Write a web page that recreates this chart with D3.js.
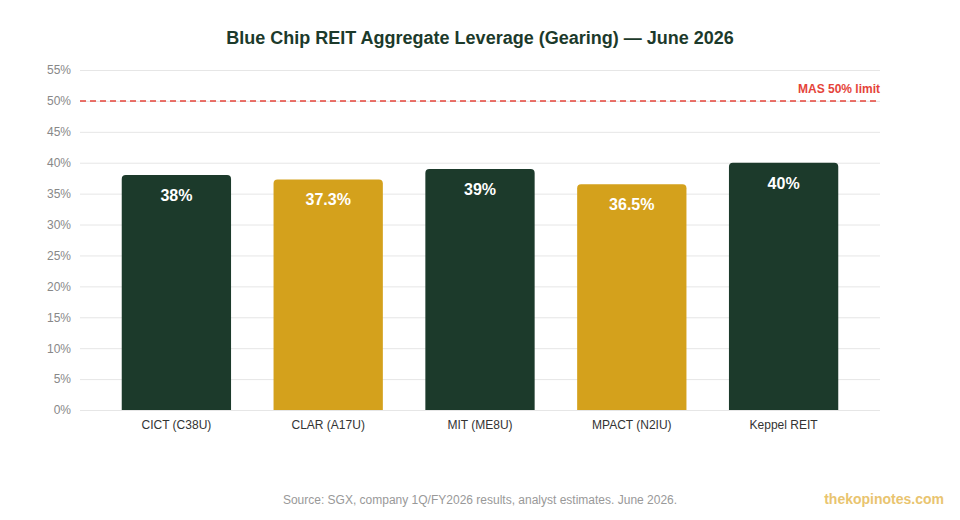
<!DOCTYPE html>
<html>
<head>
<meta charset="utf-8">
<script src="https://cdn.jsdelivr.net/npm/d3@7"></script>
<style>
  body { margin: 0; background: #fff; font-family: "Liberation Sans", Arial, sans-serif; }
</style>
</head>
<body>
<div id="chart"></div>
<script>
// Data
const reits = ['CICT (C38U)', 'CLAR (A17U)', 'MIT (ME8U)', 'MPACT (N2IU)', 'Keppel REIT'];
const gearing = [38, 37.3, 39, 36.5, 40];
const barColors = ['#1c3a2b', '#d4a11c', '#1c3a2b', '#d4a11c', '#1c3a2b'];
const yTicks = [0, 5, 10, 15, 20, 25, 30, 35, 40, 45, 50, 55];
const masLimit = 50;

const width = 960, height = 520;
const margin = { top: 70, right: 80, bottom: 110, left: 80 };

const svg = d3.select('#chart')
  .append('svg')
  .attr('width', width)
  .attr('height', height);

// Scales
const x = d3.scaleBand()
  .domain(reits)
  .range([margin.left, width - margin.right])
  .paddingInner(0.28)
  .paddingOuter(0.275);

const y = d3.scaleLinear()
  .domain([0, 55])
  .range([height - margin.bottom, margin.top]);

// Title
svg.append('text')
  .attr('x', width / 2)
  .attr('y', 44)
  .attr('text-anchor', 'middle')
  .attr('font-size', 18)
  .attr('font-weight', 'bold')
  .attr('fill', '#1c3a2b')
  .text('Blue Chip REIT Aggregate Leverage (Gearing) \u2014 June 2026');

// Y axis with gridlines
const yAxis = svg.append('g')
  .attr('transform', `translate(${margin.left},0)`)
  .call(d3.axisLeft(y)
    .tickValues(yTicks)
    .tickSize(-(width - margin.left - margin.right))
    .tickPadding(9)
    .tickFormat(d => d + '%'));
yAxis.select('.domain').remove();
yAxis.selectAll('.tick line').attr('stroke', '#e6e6e6').attr('stroke-width', 1);
yAxis.selectAll('.tick text')
  .attr('fill', '#888')
  .attr('font-size', 12)
  .attr('font-family', '"Liberation Sans", Arial, sans-serif');

// X axis labels
const xAxis = svg.append('g')
  .attr('transform', `translate(0,${height - margin.bottom})`)
  .call(d3.axisBottom(x).tickSize(0).tickPadding(10));
xAxis.select('.domain').remove();
xAxis.selectAll('.tick text')
  .attr('fill', '#333')
  .attr('font-size', 12)
  .attr('font-family', '"Liberation Sans", Arial, sans-serif');

// Bars with rounded top corners
const r = 4;
function barPath(i) {
  const x0 = x(reits[i]), w = x.bandwidth();
  const y0 = y(gearing[i]), y1 = y(0);
  return `M${x0},${y1} L${x0},${y0 + r} Q${x0},${y0} ${x0 + r},${y0} ` +
    `L${x0 + w - r},${y0} Q${x0 + w},${y0} ${x0 + w},${y0 + r} L${x0 + w},${y1} Z`;
}

svg.append('g')
  .selectAll('path')
  .data(gearing)
  .join('path')
  .attr('d', (d, i) => barPath(i))
  .attr('fill', (d, i) => barColors[i]);

// Value labels inside bars
svg.append('g')
  .selectAll('text')
  .data(gearing)
  .join('text')
  .attr('x', (d, i) => x(reits[i]) + x.bandwidth() / 2)
  .attr('y', d => y(d) + 26)
  .attr('text-anchor', 'middle')
  .attr('font-size', 16)
  .attr('font-weight', 'bold')
  .attr('fill', '#fff')
  .text(d => d + '%');

// MAS limit line
svg.append('line')
  .attr('x1', margin.left)
  .attr('x2', width - margin.right)
  .attr('y1', y(masLimit))
  .attr('y2', y(masLimit))
  .attr('stroke', '#e5443a')
  .attr('stroke-width', 1.5)
  .attr('stroke-dasharray', '6,4');

svg.append('text')
  .attr('x', width - margin.right)
  .attr('y', y(masLimit) - 8)
  .attr('text-anchor', 'end')
  .attr('font-size', 12)
  .attr('font-weight', 'bold')
  .attr('fill', '#e5443a')
  .text('MAS 50% limit');

// Footer
svg.append('text')
  .attr('x', width / 2)
  .attr('y', 504)
  .attr('text-anchor', 'middle')
  .attr('font-size', 12)
  .attr('fill', '#999')
  .text('Source: SGX, company 1Q/FY2026 results, analyst estimates. June 2026.');

svg.append('text')
  .attr('x', 944)
  .attr('y', 504)
  .attr('text-anchor', 'end')
  .attr('font-size', 14)
  .attr('font-weight', 'bold')
  .attr('fill', '#e9c46f')
  .text('thekopinotes.com');
</script>
</body>
</html>
